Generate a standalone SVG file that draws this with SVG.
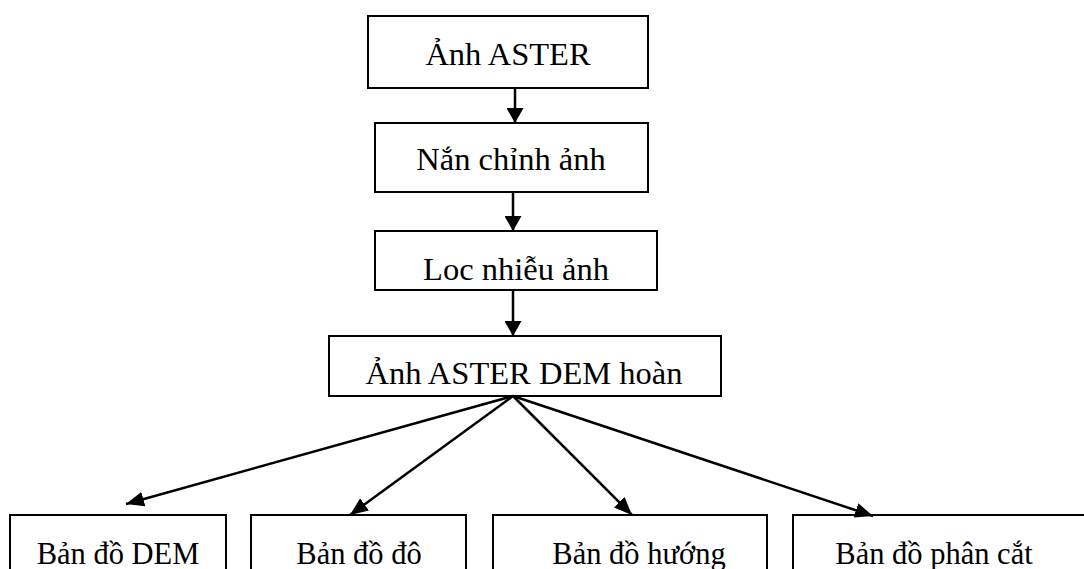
<svg xmlns="http://www.w3.org/2000/svg" width="1084" height="569" viewBox="0 0 1084 569">
<style>
.box{fill:#fff;stroke:#000;stroke-width:2}
.lbl{font-family:"Liberation Serif","Times New Roman",serif;font-size:32.5px;fill:#000;text-anchor:middle}
.sm{font-size:30.5px}
.arr{stroke:#000;stroke-width:2.5;fill:none}
.v{marker-end:url(#ahv)}
.d{marker-end:url(#ahd)}
</style>
<defs>
<marker id="ahv" markerUnits="userSpaceOnUse" markerWidth="16" markerHeight="17" refX="15" refY="8.5" orient="auto">
<path d="M0,0 L15,8.5 L0,17 z" fill="#000"/>
</marker>
<marker id="ahd" markerUnits="userSpaceOnUse" markerWidth="19" markerHeight="15" refX="18" refY="7.5" orient="auto">
<path d="M0,0 L18,7.5 L0,15 z" fill="#000"/>
</marker>
</defs>
<rect width="1084" height="569" fill="#fff"/>
<g id="n1"><rect class="box" x="368" y="16" width="280" height="72"/><text class="lbl" x="508" y="65">Ảnh ASTER</text></g>
<g id="n2"><rect class="box" x="375" y="123" width="273" height="69"/><text class="lbl" x="511" y="170">Nắn chỉnh ảnh</text></g>
<g id="n3"><rect class="box" x="375" y="231" width="282" height="59"/><text class="lbl" x="516" y="280">Loc nhiễu ảnh</text></g>
<g id="n4"><rect class="box" x="329" y="336" width="392" height="60"/><text class="lbl" x="524" y="384">Ảnh ASTER DEM hoàn</text></g>
<g id="n5"><rect class="box" x="10" y="515" width="216" height="70"/><text class="lbl sm" x="118" y="564">Bản đồ DEM</text></g>
<g id="n6"><rect class="box" x="251" y="515" width="215" height="70"/><text class="lbl sm" x="359" y="564">Bản đồ đô</text></g>
<g id="n7"><rect class="box" x="493" y="515" width="274" height="70"/><text class="lbl sm" x="639" y="564">Bản đồ hướng</text></g>
<g id="n8"><rect class="box" x="793" y="515" width="300" height="70"/><text class="lbl sm" x="934" y="564">Bản đồ phân cắt</text></g>
<g id="connectors">
<line class="arr v" x1="515" y1="88" x2="515" y2="123"/>
<line class="arr v" x1="513" y1="192" x2="513" y2="231"/>
<line class="arr v" x1="513" y1="290" x2="513" y2="336"/>
<line class="arr d" x1="513" y1="396" x2="126" y2="504"/>
<line class="arr d" x1="513" y1="396" x2="350" y2="515"/>
<line class="arr d" x1="513" y1="396" x2="632" y2="515"/>
<line class="arr d" x1="513" y1="396" x2="873" y2="516"/>
</g>
</svg>
